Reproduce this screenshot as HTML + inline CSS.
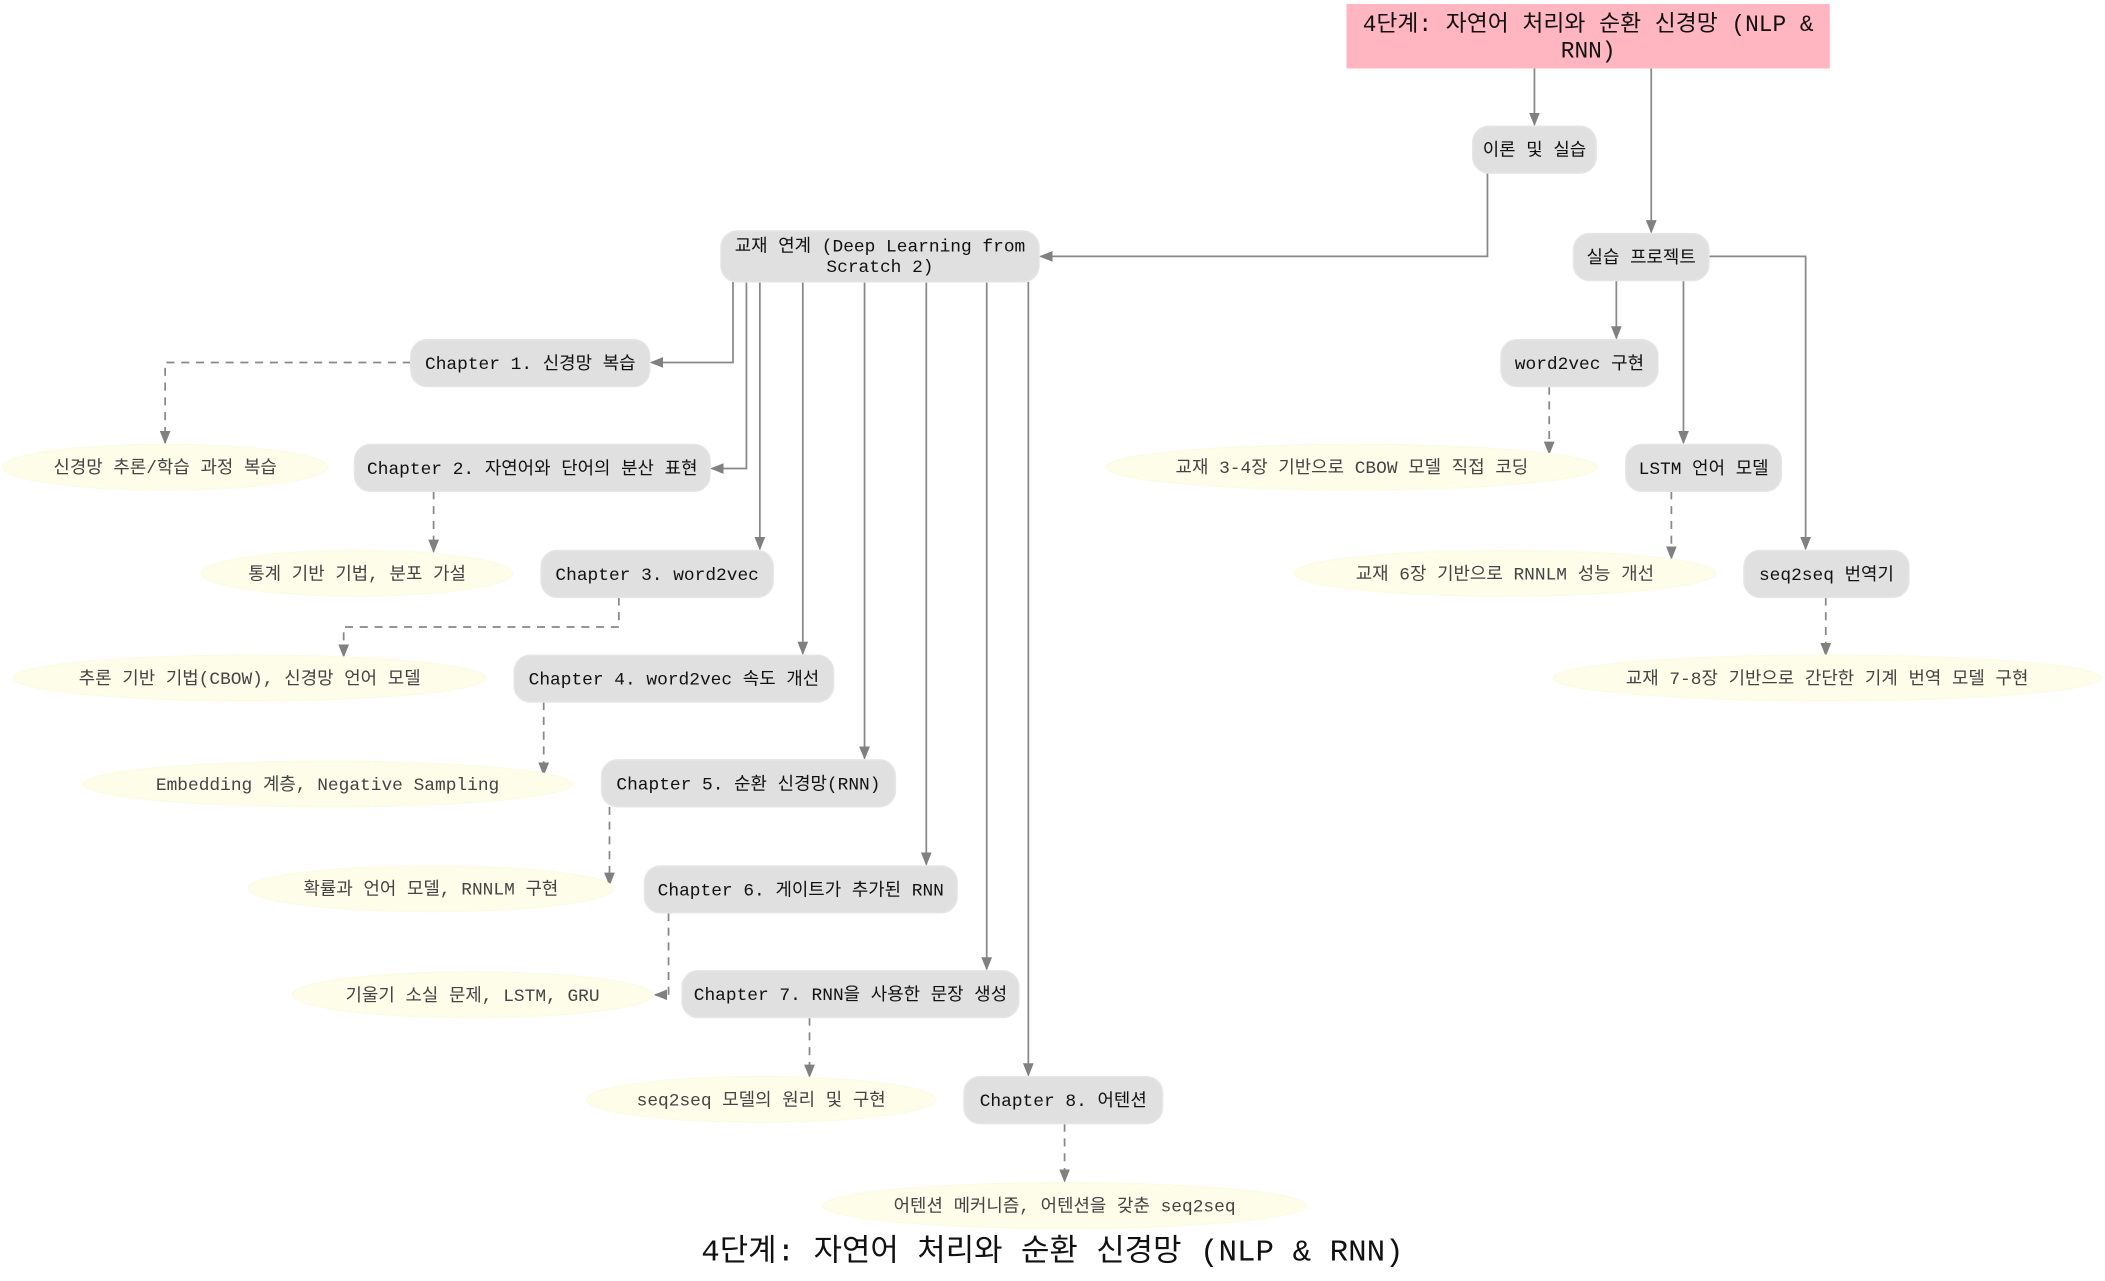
<!DOCTYPE html>
<html><head><meta charset="utf-8"><style>
html,body{margin:0;padding:0;background:#fff;width:2105px;height:1281px;overflow:hidden}
svg{display:block}
text{font-family:"Liberation Mono","Noto Sans CJK KR",monospace;text-anchor:middle;dominant-baseline:central}
.n{fill:#e0e0e0;stroke:#e6e6e6}
.e{fill:#fdfdea;stroke:#fbfbe6}
.l{fill:none;stroke:#888;stroke-width:1.3}
.d{fill:none;stroke:#888;stroke-width:1.3;stroke-dasharray:6,5}
.t{font-size:13.3px;fill:#111}
.s{font-size:13.3px;fill:#444}
</style></head><body>
<svg width="2105" height="1281" viewBox="0 0 1568 954.2" preserveAspectRatio="none">
<defs><marker id="a" markerWidth="10" markerHeight="8" refX="9" refY="4" orient="auto" markerUnits="userSpaceOnUse"><path d="M0,0 L10,4 L0,8 z" fill="#808080"/></marker></defs>

<rect x="1003" y="3" width="360" height="48" fill="#ffb6c1"/>
<g transform="translate(0,1.5)">
<text x="1183" y="17" style="font-size:17px" fill="#111">4단계: 자연어 처리와 순환 신경망 (NLP &amp;</text>
<text x="1183" y="37" style="font-size:17px" fill="#111">RNN)</text>
</g>

<path class="l" d="M1143,51 V93" marker-end="url(#a)"/>
<path class="l" d="M1230,51 V173" marker-end="url(#a)"/>
<path class="l" d="M1108,129 V191 H775" marker-end="url(#a)"/>
<path class="l" d="M1204,209 V252" marker-end="url(#a)"/>
<path class="l" d="M1254,209 V330" marker-end="url(#a)"/>
<path class="l" d="M1273,191 H1345 V409" marker-end="url(#a)"/>
<path class="l" d="M546,210 V270 H485" marker-end="url(#a)"/>
<path class="l" d="M556,210 V349 H530" marker-end="url(#a)"/>
<path class="l" d="M566,210 V409" marker-end="url(#a)"/>
<path class="l" d="M598,210 V487" marker-end="url(#a)"/>
<path class="l" d="M644,210 V565" marker-end="url(#a)"/>
<path class="l" d="M690,210 V644" marker-end="url(#a)"/>
<path class="l" d="M735,210 V722" marker-end="url(#a)"/>
<path class="l" d="M766,210 V801" marker-end="url(#a)"/>

<path class="d" d="M306,270 H123 V330" marker-end="url(#a)"/>
<path class="d" d="M323,366 V411" marker-end="url(#a)"/>
<path class="d" d="M461,445 V467 H256 V489" marker-end="url(#a)"/>
<path class="d" d="M405,523 V577" marker-end="url(#a)"/>
<path class="d" d="M454,601 V659" marker-end="url(#a)"/>
<path class="d" d="M498,680 V741 H488" marker-end="url(#a)"/>
<path class="d" d="M603,758 V802" marker-end="url(#a)"/>
<path class="d" d="M793,837 V880" marker-end="url(#a)"/>
<path class="d" d="M1154,288 V338" marker-end="url(#a)"/>
<path class="d" d="M1245,366 V416" marker-end="url(#a)"/>
<path class="d" d="M1360,445 V488" marker-end="url(#a)"/>

<rect class="n" x="1097" y="94" width="92" height="35" rx="12"/>
<rect class="n" x="537" y="172" width="237" height="38" rx="12"/>
<rect class="n" x="1172" y="174" width="101" height="35" rx="12"/>
<rect class="n" x="306" y="253" width="178" height="35" rx="12"/>
<rect class="n" x="1118" y="253" width="117" height="35" rx="12"/>
<rect class="n" x="264" y="331" width="265" height="35" rx="12"/>
<rect class="n" x="1211" y="331" width="116" height="35" rx="12"/>
<rect class="n" x="403" y="410" width="173" height="35" rx="12"/>
<rect class="n" x="1299" y="410" width="123" height="35" rx="12"/>
<rect class="n" x="383" y="488" width="238" height="35" rx="12"/>
<rect class="n" x="448" y="566" width="219" height="35" rx="12"/>
<rect class="n" x="480" y="645" width="233" height="35" rx="12"/>
<rect class="n" x="508" y="723" width="251" height="35" rx="12"/>
<rect class="n" x="718" y="802" width="148" height="35" rx="12"/>

<ellipse class="e" cx="123" cy="348" rx="121" ry="17"/>
<ellipse class="e" cx="1007" cy="348" rx="183" ry="17"/>
<ellipse class="e" cx="266" cy="427" rx="116" ry="17"/>
<ellipse class="e" cx="1121" cy="427" rx="157" ry="17"/>
<ellipse class="e" cx="186" cy="505" rx="176" ry="17"/>
<ellipse class="e" cx="1361" cy="505" rx="204" ry="17"/>
<ellipse class="e" cx="244" cy="584" rx="182" ry="17"/>
<ellipse class="e" cx="321" cy="662" rx="136" ry="17"/>
<ellipse class="e" cx="352" cy="741" rx="134" ry="17"/>
<ellipse class="e" cx="567" cy="819" rx="130" ry="17"/>
<ellipse class="e" cx="793" cy="898" rx="180" ry="17"/>

<g transform="translate(0,1.5)">
<text class="t" x="1143" y="111.5">이론 및 실습</text>
<text class="t" x="655.5" y="183">교재 연계 (Deep Learning from</text><text class="t" x="655.5" y="198">Scratch 2)</text>
<text class="t" x="1222.5" y="191.5">실습 프로젝트</text>
<text class="t" x="395" y="270.5">Chapter 1. 신경망 복습</text>
<text class="t" x="1176.5" y="270.5">word2vec 구현</text>
<text class="t" x="396.5" y="348.5">Chapter 2. 자연어와 단어의 분산 표현</text>
<text class="t" x="1269" y="348.5">LSTM 언어 모델</text>
<text class="t" x="489.5" y="427.5">Chapter 3. word2vec</text>
<text class="t" x="1360.5" y="427.5">seq2seq 번역기</text>
<text class="t" x="502" y="505.5">Chapter 4. word2vec 속도 개선</text>
<text class="t" x="557.5" y="583.5">Chapter 5. 순환 신경망(RNN)</text>
<text class="t" x="596.5" y="662.5">Chapter 6. 게이트가 추가된 RNN</text>
<text class="t" x="633.5" y="740.5">Chapter 7. RNN을 사용한 문장 생성</text>
<text class="t" x="792" y="819.5">Chapter 8. 어텐션</text>

<text class="s" x="123" y="348">신경망 추론/학습 과정 복습</text>
<text class="s" x="1007" y="348">교재 3-4장 기반으로 CBOW 모델 직접 코딩</text>
<text class="s" x="266" y="427">통계 기반 기법, 분포 가설</text>
<text class="s" x="1121" y="427">교재 6장 기반으로 RNNLM 성능 개선</text>
<text class="s" x="186" y="505">추론 기반 기법(CBOW), 신경망 언어 모델</text>
<text class="s" x="1361" y="505">교재 7-8장 기반으로 간단한 기계 번역 모델 구현</text>
<text class="s" x="244" y="584">Embedding 계층, Negative Sampling</text>
<text class="s" x="321" y="662">확률과 언어 모델, RNNLM 구현</text>
<text class="s" x="352" y="741">기울기 소실 문제, LSTM, GRU</text>
<text class="s" x="567" y="819">seq2seq 모델의 원리 및 구현</text>
<text class="s" x="793" y="898">어텐션 메커니즘, 어텐션을 갖춘 seq2seq</text>

<text x="784" y="932" style="font-size:23px" fill="#111">4단계: 자연어 처리와 순환 신경망 (NLP &amp; RNN)</text>
</g>
</svg>
</body></html>
